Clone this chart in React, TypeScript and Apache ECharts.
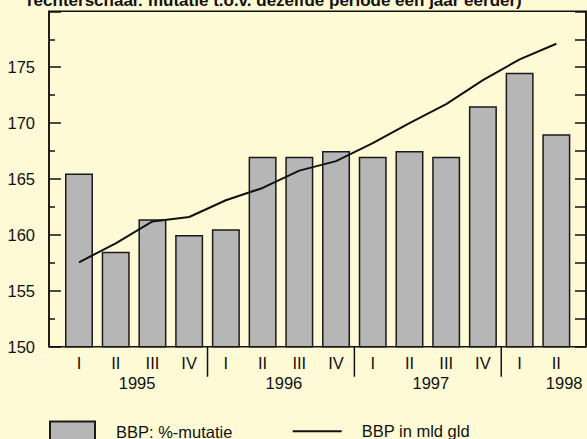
import React, { useEffect, useRef } from "react";
import * as echarts from "echarts";

const quarters = ["I", "II", "III", "IV", "I", "II", "III", "IV", "I", "II", "III", "IV", "I", "II"];
const years = ["1995", "1996", "1997", "1998"];
const mutatie = [165.5, 158.5, 161.4, 160, 160.5, 167, 167, 167.5, 167, 167.5, 167, 171.5, 174.5, 169];
const bbpMld = [157.55, 159.25, 161.2, 161.6, 163.1, 164.2, 165.75, 166.6, 168.2, 170.0, 171.7, 173.85, 175.7, 177.1];
const yMin = 150;
const yMax = 180;
const titleText = "rechterschaal: mutatie t.o.v. dezelfde periode een jaar eerder)";
const barName = "BBP: %-mutatie";
const lineName = "BBP in mld gld";

const FONT = "'Liberation Sans', Arial, Helvetica, sans-serif";
const BG = "#FFFAD6";
const INK = "#111111";
const FS = 16.5;

export default function App() {
  const ref = useRef<HTMLDivElement>(null);
  useEffect(() => {
    if (!ref.current) return;
    const chart = echarts.init(ref.current, null, { renderer: "svg" });
    const gridTop = 11.3;
    const gridBottom = 92.3;
    chart.setOption({
      animation: false,
      backgroundColor: BG,
      textStyle: { fontFamily: FONT, color: INK },
      grid: [
        {
          left: 49,
          right: 1,
          top: gridTop,
          bottom: gridBottom,
          show: true,
          borderColor: INK,
          borderWidth: 1.5,
          backgroundColor: "transparent",
        },
        { left: 60.64, right: 12.3, top: gridTop, bottom: gridBottom },
      ],
      xAxis: [
        { type: "value", gridIndex: 0, min: 0, max: 1, show: false },
        {
          type: "category",
          gridIndex: 1,
          data: quarters,
          boundaryGap: true,
          axisLine: { show: false },
          axisTick: { show: false },
          axisLabel: { fontSize: FS, margin: 7.4, color: INK, fontFamily: FONT, interval: 0 },
        },
      ],
      yAxis: [
        {
          type: "value",
          gridIndex: 0,
          min: yMin,
          max: yMax,
          interval: 5,
          axisLine: { show: true, lineStyle: { color: INK, width: 1.5 } },
          axisTick: { show: true, inside: true, length: 12, lineStyle: { color: INK, width: 1.5 } },
          minorTick: { show: true, splitNumber: 2, length: 6, lineStyle: { color: INK, width: 1.5 } },
          splitLine: { show: false },
          axisLabel: {
            fontSize: FS,
            margin: 14,
            color: INK,
            fontFamily: FONT,
            formatter: (v: number) => (v >= yMax ? "" : String(v)),
          },
        },
        {
          type: "value",
          gridIndex: 0,
          position: "right",
          min: yMin,
          max: yMax,
          interval: 2.5,
          axisLine: { show: true, lineStyle: { color: INK, width: 1.5 } },
          axisTick: { show: true, inside: true, length: 11, lineStyle: { color: INK, width: 1.5 } },
          axisLabel: { show: false },
          splitLine: { show: false },
        },
        { type: "value", gridIndex: 1, min: yMin, max: yMax, show: false, splitLine: { show: false } },
      ],
      legend: [
        {
          data: [barName],
          icon: "rect",
          left: 49,
          top: 420.5,
          padding: 0,
          itemWidth: 45,
          itemHeight: 21,
          textStyle: { fontSize: FS, color: INK, fontFamily: FONT, padding: [0, 0, 0, 16] },
        },
        {
          data: [lineName],
          icon: "rect",
          left: 292.7,
          top: 431 - FS / 2,
          padding: 0,
          itemWidth: 49,
          itemHeight: 2,
          itemStyle: { color: INK, borderWidth: 0 },
          textStyle: { fontSize: FS, color: INK, fontFamily: FONT, padding: [0, 0, 0, 15] },
        },
      ],
      series: [
        {
          name: barName,
          type: "bar",
          xAxisIndex: 1,
          yAxisIndex: 2,
          data: mutatie,
          barWidth: 28,
          itemStyle: { color: "#B6B6B6", borderColor: "#1a1a1a", borderWidth: 1.5 },
        },
        {
          name: lineName,
          type: "line",
          xAxisIndex: 1,
          yAxisIndex: 2,
          data: bbpMld,
          symbol: "none",
          z: 5,
          lineStyle: { color: INK, width: 2 },
          itemStyle: { color: INK },
        },
      ],
    });

    // Year separators and labels, positioned through the axis scales
    const px = (i: number) => chart.convertToPixel({ xAxisIndex: 1 }, i) as number;
    const bottomY = chart.convertToPixel({ yAxisIndex: 2 }, yMin) as number;
    const frameRight = chart.convertToPixel({ xAxisIndex: 0 }, 1) as number;
    const bw = px(1) - px(0);
    const graphics: any[] = [];
    years.forEach((yr, k) => {
      const first = k * 4;
      if (k > 0) {
        const sx = px(first) - bw / 2;
        graphics.push({
          type: "line",
          shape: { x1: sx, y1: bottomY, x2: sx, y2: bottomY + 30 },
          style: { stroke: INK, lineWidth: 1.5 },
        });
      }
      let cx = px(first) + 1.5 * bw + 3;
      let align = "center";
      if (cx + 19 > frameRight - 3) {
        cx = frameRight - 3.5;
        align = "right";
      }
      graphics.push({
        type: "text",
        x: cx,
        y: bottomY + 36.6,
        style: {
          text: yr,
          fontSize: FS,
          fontFamily: FONT,
          fill: INK,
          align,
          verticalAlign: "middle",
        },
      });
    });
    graphics.push({
      type: "text",
      x: 27,
      y: 0,
      style: {
        text: titleText,
        fontSize: 17,
        fontWeight: "bold",
        fontFamily: FONT,
        fill: INK,
        align: "left",
        verticalAlign: "middle",
      },
    });
    chart.setOption({ graphic: graphics });

    return () => chart.dispose();
  }, []);
  return (
    <div
      ref={ref}
      style={{ position: "fixed", left: 0, top: 0, width: 587, height: 439, background: BG }}
    />
  );
}
